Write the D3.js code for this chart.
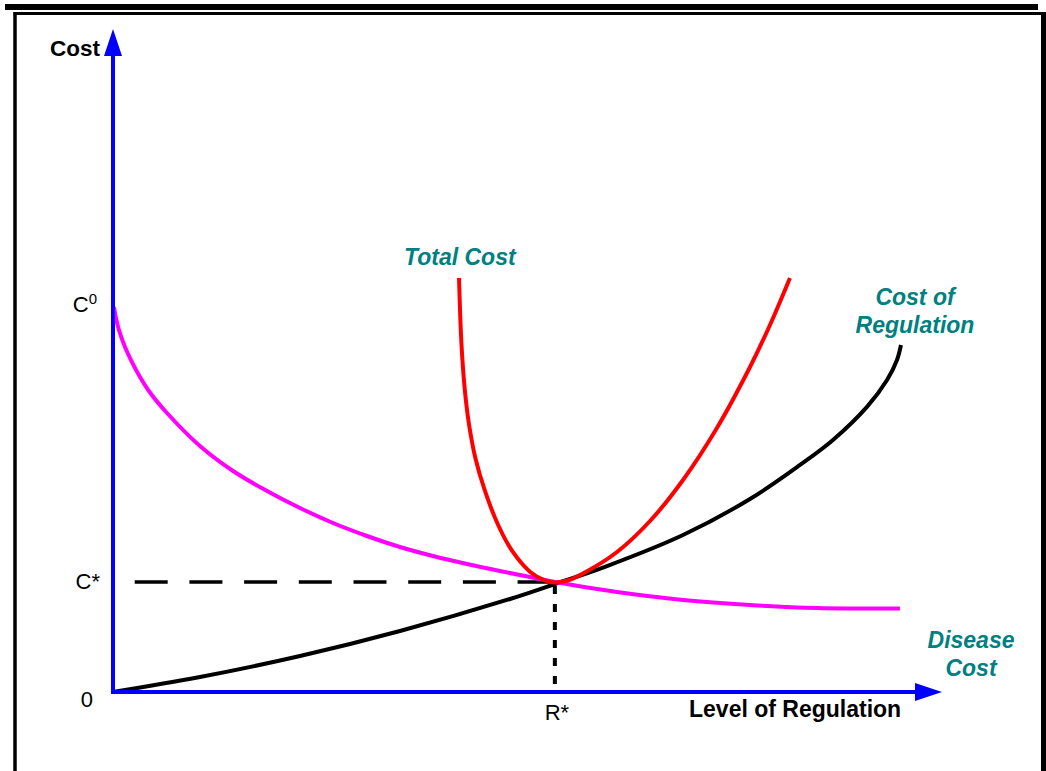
<!DOCTYPE html>
<html>
<head>
<meta charset="utf-8">
<script src="https://cdn.jsdelivr.net/npm/d3@7"></script>
<style>
  html, body { margin: 0; padding: 0; background: #fff; }
  svg { display: block; }
  text { font-family: "Liberation Sans", Arial, Helvetica, sans-serif; }
</style>
</head>
<body>
<svg id="chart" width="1046" height="771"></svg>
<script>
// ---- data (x: level of regulation, y: cost; both on a 0..100 scale) ----
const diseaseX = [0.12, 0.36, 0.72, 1.45, 2.29, 3.26, 4.46, 6.51, 10.49, 14.48, 18.58, 22.56, 26.54, 30.64, 34.62, 38.60, 42.70, 46.68, 50.30, 53.32, 60.80, 68.76, 76.84, 84.92, 94.93];
const diseaseY = [58.07, 56.41, 54.60, 52.04, 49.77, 47.51, 45.17, 42.08, 37.10, 33.33, 30.32, 27.75, 25.49, 23.53, 21.87, 20.51, 19.31, 18.25, 17.35, 16.59, 15.08, 13.88, 13.12, 12.67, 12.59];

const regulationX = [0, 10.49, 22.56, 34.62, 47.89, 53.32, 59.59, 68.76, 76.84, 82.87, 86.85, 90.95, 93.37, 94.57, 95.05];
const regulationY = [0, 2.26, 5.43, 9.20, 14.03, 16.29, 19.00, 23.68, 29.11, 34.24, 38.01, 43.00, 47.06, 50.08, 52.34];

const totalX = [41.74, 41.86, 41.98, 42.15, 42.44, 42.92, 43.71, 44.91, 46.46, 48.15, 50.33, 51.99, 53.32, 55.01, 56.69, 60.80, 64.78, 68.76, 72.85, 76.84, 79.25, 81.66];
const totalY = [62.44, 57.62, 53.85, 50.08, 45.55, 40.57, 35.29, 30.17, 25.19, 21.27, 18.10, 16.89, 16.52, 16.89, 17.87, 21.12, 25.79, 31.98, 39.82, 49.02, 55.35, 62.44];

const optimumR = 53.3;   // R*
const optimumC = 16.6;   // C*
const initialC = 58.4;   // C0

const yTickLabels = [{ v: initialC, main: "C", sup: "0" }, { v: optimumC, main: "C*", sup: "" }, { v: 0, main: "0", sup: "" }];
const xTickLabels = [{ v: optimumR, main: "R*" }];

// ---- scales ----
const x = d3.scaleLinear().domain([0, 100]).range([113, 942]);
const y = d3.scaleLinear().domain([0, 100]).range([692, 29]);

const svg = d3.select("#chart");
const teal = "#008080";

// ---- page frame ----
svg.append("rect").attr("x", 5).attr("y", 4).attr("width", 1033).attr("height", 6).attr("fill", "#000");
svg.append("line").attr("x1", 13.5).attr("x2", 1046).attr("y1", 13.5).attr("y2", 13.5).attr("stroke", "#000").attr("stroke-width", 3);
svg.append("line").attr("x1", 15).attr("x2", 15).attr("y1", 12).attr("y2", 771).attr("stroke", "#000").attr("stroke-width", 3.5);
svg.append("line").attr("x1", 1043.5).attr("x2", 1043.5).attr("y1", 12).attr("y2", 771).attr("stroke", "#000").attr("stroke-width", 5);

// ---- guide lines ----
svg.append("line")
  .attr("x1", x(0)).attr("x2", x(optimumR))
  .attr("y1", y(optimumC)).attr("y2", y(optimumC))
  .attr("stroke", "#000").attr("stroke-width", 3.5)
  .attr("stroke-dasharray", "33,21.7").attr("stroke-dashoffset", 33);
svg.append("line")
  .attr("x1", x(optimumR)).attr("x2", x(optimumR))
  .attr("y1", y(optimumC)).attr("y2", y(0))
  .attr("stroke", "#000").attr("stroke-width", 4)
  .attr("stroke-dasharray", "8,10").attr("stroke-dashoffset", -4);

// ---- curves ----
const line = d3.line().x(d => x(d[0])).y(d => y(d[1])).curve(d3.curveCatmullRom.alpha(0.5));
function series(xs, ys) { return xs.map((v, i) => [v, ys[i]]); }

svg.append("path").attr("d", line(series(regulationX, regulationY)))
  .attr("fill", "none").attr("stroke", "#000").attr("stroke-width", 4);
svg.append("path").attr("d", line(series(diseaseX, diseaseY)))
  .attr("fill", "none").attr("stroke", "#ff00ff").attr("stroke-width", 4);
svg.append("path").attr("d", line(series(totalX, totalY)))
  .attr("fill", "none").attr("stroke", "#ff0000").attr("stroke-width", 4);

// ---- axes ----
const blue = "#0000ff";
svg.append("line").attr("x1", x(0)).attr("x2", x(0)).attr("y1", y(0) + 2).attr("y2", y(100) + 20)
  .attr("stroke", blue).attr("stroke-width", 4);
svg.append("path")
  .attr("d", `M${x(0)},${y(100)} L${x(0) - 9},${y(100) + 27} L${x(0) + 9},${y(100) + 27} Z`)
  .attr("fill", blue);
svg.append("line").attr("x1", x(0) - 2).attr("x2", x(100) - 20).attr("y1", y(0)).attr("y2", y(0))
  .attr("stroke", blue).attr("stroke-width", 4);
svg.append("path")
  .attr("d", `M${x(100)},${y(0)} L${x(100) - 27},${y(0) - 9} L${x(100) - 27},${y(0) + 9} Z`)
  .attr("fill", blue);

// ---- tick labels ----
yTickLabels.forEach(t => {
  const isZero = t.v === 0;
  const tx = svg.append("text")
    .attr("x", isZero ? x(0) - 20 : (t.sup ? x(0) - 16 : x(0) - 13))
    .attr("y", isZero ? y(0) + 15 : y(t.v) + 7)
    .attr("text-anchor", "end")
    .attr("font-size", 22).attr("fill", "#000");
  tx.append("tspan").text(t.main);
  if (t.sup) tx.append("tspan").attr("font-size", 15).attr("dy", -8).text(t.sup);
});
xTickLabels.forEach(t => {
  svg.append("text").attr("x", x(t.v) + 2).attr("y", y(0) + 28)
    .attr("text-anchor", "middle").attr("font-size", 22).attr("fill", "#000").text(t.main);
});

// ---- axis titles ----
svg.append("text").attr("x", 50).attr("y", 56).attr("font-size", 22.5).attr("font-weight", "bold").text("Cost");
svg.append("text").attr("x", 689).attr("y", 717).attr("font-size", 23).attr("font-weight", "bold").text("Level of Regulation");

// ---- curve labels ----
function label(lines, cx, by, anchor) {
  const t = svg.append("text").attr("font-size", 23).attr("font-weight", "bold")
    .attr("font-style", "italic").attr("fill", teal).attr("text-anchor", anchor);
  lines.forEach((s, i) => t.append("tspan").attr("x", cx).attr("y", by + i * 28).text(s));
}
label(["Total Cost"], 404, 265, "start");
label(["Cost of", "Regulation"], 915, 305, "middle");
label(["Disease", "Cost"], 971, 648, "middle");
</script>
</body>
</html>
